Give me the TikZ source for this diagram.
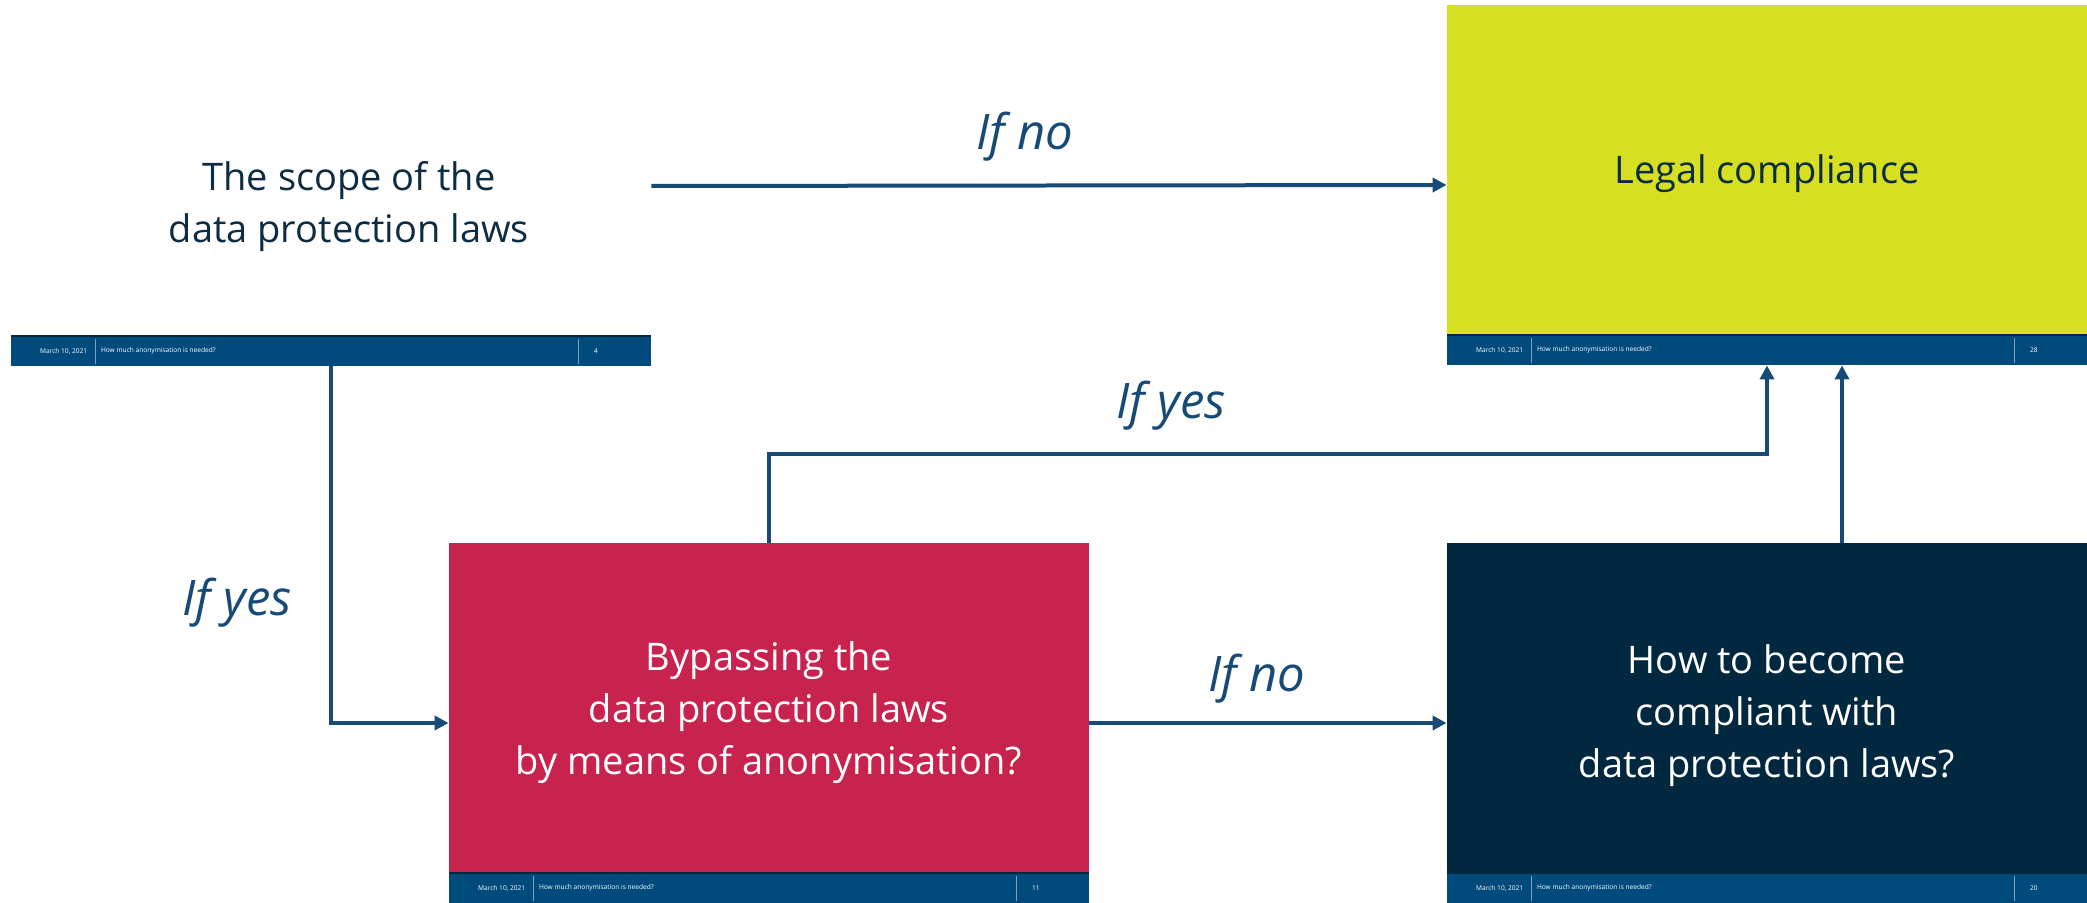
\documentclass[tikz,border=0pt]{standalone}
\usepackage{fontspec}
\setmainfont{Open Sans}
\usepackage{xcolor}
\usetikzlibrary{arrows.meta}

\definecolor{limegreen}{HTML}{D6DF22}
\definecolor{raspberry}{HTML}{C8224F}
\definecolor{deepnavy}{HTML}{02283F}
\definecolor{footblue}{HTML}{004A7C}
\definecolor{arrowblue}{HTML}{174A77}
\definecolor{textnavy}{HTML}{0D2C42}
\definecolor{sepgrey}{HTML}{7F9FBF}

\begin{document}
\begin{tikzpicture}[x=0.5pt,y=-0.5pt]
\tikzset{>={Triangle[width=7pt,length=7pt]}}
\tikzstyle{slide}=[rectangle,inner sep=0pt,minimum width=320pt,minimum height=180pt]
\tikzstyle{footer}=[rectangle,fill=footblue,inner sep=0pt,minimum width=320pt,minimum height=15pt,anchor=south]
\tikzstyle{foottext}=[text=white,inner sep=0pt,font=\fontsize{3.3}{4}\selectfont]
\tikzstyle{bigtext}=[align=center,inner sep=0pt,font=\fontsize{19}{26}\selectfont]
\tikzstyle{answer}=[inner sep=0pt,text=arrowblue,font=\fontsize{24.5}{28}\selectfont\itshape]
\tikzstyle{flow}=[->,line width=2pt,draw=arrowblue]

\useasboundingbox (0,0) rectangle (2087,903);

% the four slides
\node[slide,fill=white](scope) at (331,186){};
\node[slide,fill=limegreen](legal) at (1767,185){};
\node[slide,fill=raspberry](bypass) at (769,723){};
\node[slide,fill=deepnavy](how) at (1767,723){};

% footers
\foreach \s/\p in {scope/4,legal/28,bypass/11,how/20}{
  \node[footer](\s-foot) at (\s.south){};
  \draw[line width=1pt,draw=deepnavy] (\s-foot.north west) -- (\s-foot.north east);
  \draw[line width=0.5pt,draw=sepgrey] ([xshift=42.5pt,yshift=-1.5pt]\s-foot.north west) -- ([xshift=42.5pt,yshift=1pt]\s-foot.south west);
  \draw[line width=0.5pt,draw=sepgrey] ([xshift=284pt,yshift=-1.5pt]\s-foot.north west) -- ([xshift=284pt,yshift=1pt]\s-foot.south west);
  \node[foottext,anchor=east] at ([xshift=38.5pt]\s-foot.west){March 10, 2021};
  \node[foottext,anchor=west] at ([xshift=45pt]\s-foot.west){How much anonymisation is needed?};
  \node[foottext,anchor=west] at ([xshift=291.5pt]\s-foot.west){\p};
}

% slide texts
\node[bigtext,text=textnavy](scope-text) at (349,207){The scope of the\\data protection laws};
\node[bigtext,text=textnavy](legal-text) at ([yshift=5.5pt]legal.center){Legal compliance};
\node[bigtext,text=white](bypass-text) at ([yshift=5pt]bypass.center){Bypassing the\\data protection laws\\by means of anonymisation?};
\node[bigtext,text=white](how-text) at ([yshift=3.5pt]how.center){How to become\\compliant with\\data protection laws?};

% connectors
\draw[flow] (scope.east) -- (legal.west);
\draw[flow] (scope.south) |- (bypass.west);
\draw[flow] (bypass.north) -- ++(0,-89) -| (legal.south);
\draw[flow] (bypass.east) -- (how.west);
\draw[flow] ([xshift=37.5pt]how.north) -- ([xshift=37.5pt]legal.south);

% answers
\node[answer](no-top) at (1025,137){If no};
\node[answer](yes-left) at (237,603){If yes};
\node[answer](yes-mid) at (1171,406){If yes};
\node[answer](no-bottom) at (1257,679){If no};
\end{tikzpicture}
\end{document}
